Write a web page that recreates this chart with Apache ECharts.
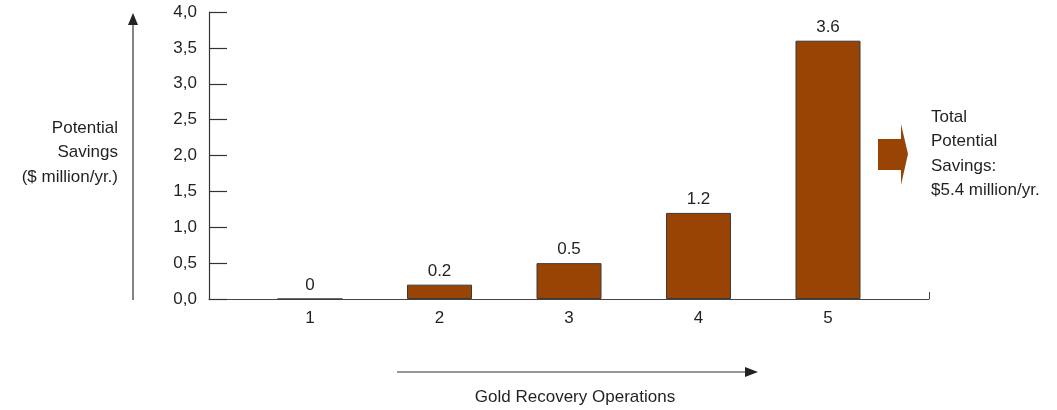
<!DOCTYPE html>
<html>
<head>
<meta charset="utf-8">
<script src="https://cdn.jsdelivr.net/npm/echarts@6/dist/echarts.min.js"></script>
<style>
  html, body { margin: 0; padding: 0; background: #fff; }
  #main { width: 1057px; height: 410px; }
</style>
</head>
<body>
<div id="main"></div>
<script>
// operations 1..5 and potential savings ($ million/yr.)
var operations = [1, 2, 3, 4, 5];
var savings = [0, 0.2, 0.5, 1.2, 3.6];
var yMin = 0, yMax = 4, yStep = 0.5;
var yTitle = 'Potential\nSavings\n($ million/yr.)';
var xTitle = 'Gold Recovery Operations';
var totalNote = 'Total\nPotential\nSavings:\n$5.4 million/yr.';

var barColor = '#984405';
var ink = '#231f20';
var font = '"Liberation Sans", Arial, sans-serif';

var barData = operations.map(function (op, i) { return [op, savings[i]]; });

var myChart = echarts.init(document.getElementById('main'));
var option = {
    animation: false,
    textStyle: { fontFamily: font, color: ink },
    grid: { left: 209, top: 12, width: 720, height: 287 },
    xAxis: {
        type: 'value',
        min: 0.22,
        max: 5.78,
        splitLine: { show: false },
        axisLine: { lineStyle: { color: '#444', width: 1.2 } },
        axisTick: { show: true, inside: true, length: 7, customValues: [5.78], lineStyle: { color: '#444' } },
        axisLabel: { customValues: operations, fontSize: 17, color: ink, margin: 11, fontFamily: font }
    },
    yAxis: {
        type: 'value',
        min: yMin,
        max: yMax,
        interval: yStep,
        splitLine: { show: false },
        axisLine: { show: true, lineStyle: { color: '#333', width: 1.2 } },
        axisTick: { show: true, inside: true, length: 18, lineStyle: { color: '#333', width: 1.2 } },
        axisLabel: {
            fontSize: 17, color: ink, margin: 12, fontFamily: font,
            formatter: function (v) { return v.toFixed(1).replace('.', ','); }
        }
    },
    series: [{
        type: 'bar',
        data: barData,
        barWidth: 65,
        itemStyle: { color: barColor, borderColor: '#3a3a3a', borderWidth: 1 },
        label: {
            show: true,
            position: 'top',
            distance: 5,
            fontSize: 17,
            color: ink,
            fontFamily: font,
            formatter: function (p) { return String(p.value[1]); }
        }
    }],
    graphic: [
        // vertical arrow beside the y axis
        { type: 'line', shape: { x1: 133, y1: 300, x2: 133, y2: 24 }, style: { stroke: '#333', lineWidth: 1.2 } },
        { type: 'polygon', shape: { points: [[128, 25], [138, 25], [133, 13]] }, style: { fill: '#222' } },
        {
            type: 'text', x: 118, y: 116,
            style: { text: yTitle, font: '17px ' + font, fill: ink, align: 'right', lineHeight: 24.5 }
        },
        // horizontal arrow under the x axis
        { type: 'line', shape: { x1: 397, y1: 372, x2: 746, y2: 372 }, style: { stroke: '#333', lineWidth: 1.2 } },
        { type: 'polygon', shape: { points: [[745, 367], [745, 377], [758, 372]] }, style: { fill: '#222' } },
        {
            type: 'text', x: 575, y: 397,
            style: { text: xTitle, font: '17px ' + font, fill: ink, align: 'center', verticalAlign: 'middle' }
        },
        // total savings arrow and note
        {
            type: 'polygon',
            shape: { points: [[878, 139], [901, 139], [901, 124], [908, 154], [901, 185], [901, 170], [878, 170]] },
            style: { fill: barColor }
        },
        {
            type: 'text', x: 931, y: 105,
            style: { text: totalNote, font: '17px ' + font, fill: ink, align: 'left', lineHeight: 24.5 }
        }
    ]
};
myChart.setOption(option);
</script>
</body>
</html>
